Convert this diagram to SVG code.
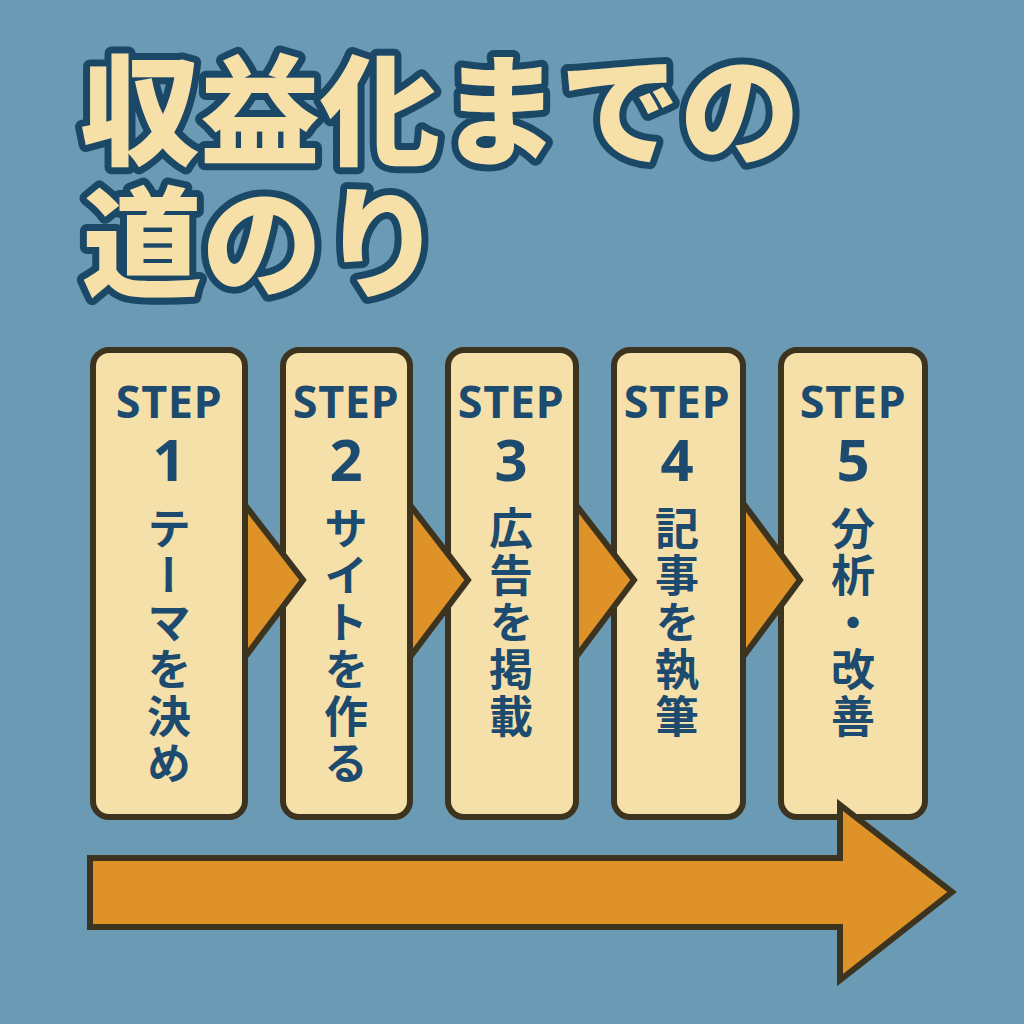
<svg xmlns="http://www.w3.org/2000/svg" width="1024" height="1024" viewBox="0 0 1024 1024">
<style>
.title{font-family:"Noto Sans CJK JP","Noto Sans",sans-serif;font-weight:900;font-size:120px;fill:#f6e0a8;stroke:#1b4866;stroke-width:14px;stroke-linejoin:round;paint-order:stroke}
.box{fill:#f6e0a9;stroke:#3d3420;stroke-width:6}
.step{font-family:"Open Sans","Noto Sans",sans-serif;font-weight:700;font-size:45px;fill:#1d4b6f;text-anchor:middle;letter-spacing:0.5px}
.num{font-family:"Open Sans","Noto Sans",sans-serif;font-weight:700;font-size:58px;fill:#1d4b6f;text-anchor:middle}
.jp{font-family:"Noto Sans CJK JP",sans-serif;font-weight:700;font-size:44px;fill:#1d4b6f;writing-mode:vertical-rl;letter-spacing:3px}
.chev{fill:#df9228;stroke:#3d3420;stroke-width:6;stroke-linejoin:miter}
</style>
<rect width="1024" height="1024" fill="#6b9ab5"/>
<g id="title">
<text class="title" x="80" y="156">収益化までの</text>
<text class="title" x="82" y="288">道のり</text>
</g>
<g id="step1">
<rect class="box" x="93" y="350" width="152" height="467" rx="16"/>
<text class="step" x="169" y="418">STEP</text>
<text class="num" x="169" y="481">1</text>
<text class="jp" x="169" y="506">テーマを決め</text>
</g>
<g id="step2">
<rect class="box" x="283" y="350" width="127" height="467" rx="16"/>
<text class="step" x="346" y="418">STEP</text>
<text class="num" x="346" y="481">2</text>
<text class="jp" x="346" y="506">サイトを作る</text>
</g>
<g id="step3">
<rect class="box" x="448" y="350" width="128" height="467" rx="16"/>
<text class="step" x="511" y="418">STEP</text>
<text class="num" x="511" y="481">3</text>
<text class="jp" x="511" y="506">広告を掲載</text>
</g>
<g id="step4">
<rect class="box" x="614" y="350" width="129" height="467" rx="16"/>
<text class="step" x="677" y="418">STEP</text>
<text class="num" x="677" y="481">4</text>
<text class="jp" x="677" y="506">記事を執筆</text>
</g>
<g id="step5">
<rect class="box" x="781" y="350" width="144" height="467" rx="16"/>
<text class="step" x="853" y="418">STEP</text>
<text class="num" x="853" y="481">5</text>
<text class="jp" x="853" y="506">分析・改善</text>
</g>
<g id="connectors">
<polygon class="chev" points="245,505 303,580 245,657"/>
<polygon class="chev" points="410,505 468,580 410,657"/>
<polygon class="chev" points="576,505 634,580 576,657"/>
<polygon class="chev" points="743,503 800,580 743,657"/>
<polygon class="chev" points="90,858 840,858 840,805 952,892 840,980 840,927 90,927"/>
</g>
</svg>
